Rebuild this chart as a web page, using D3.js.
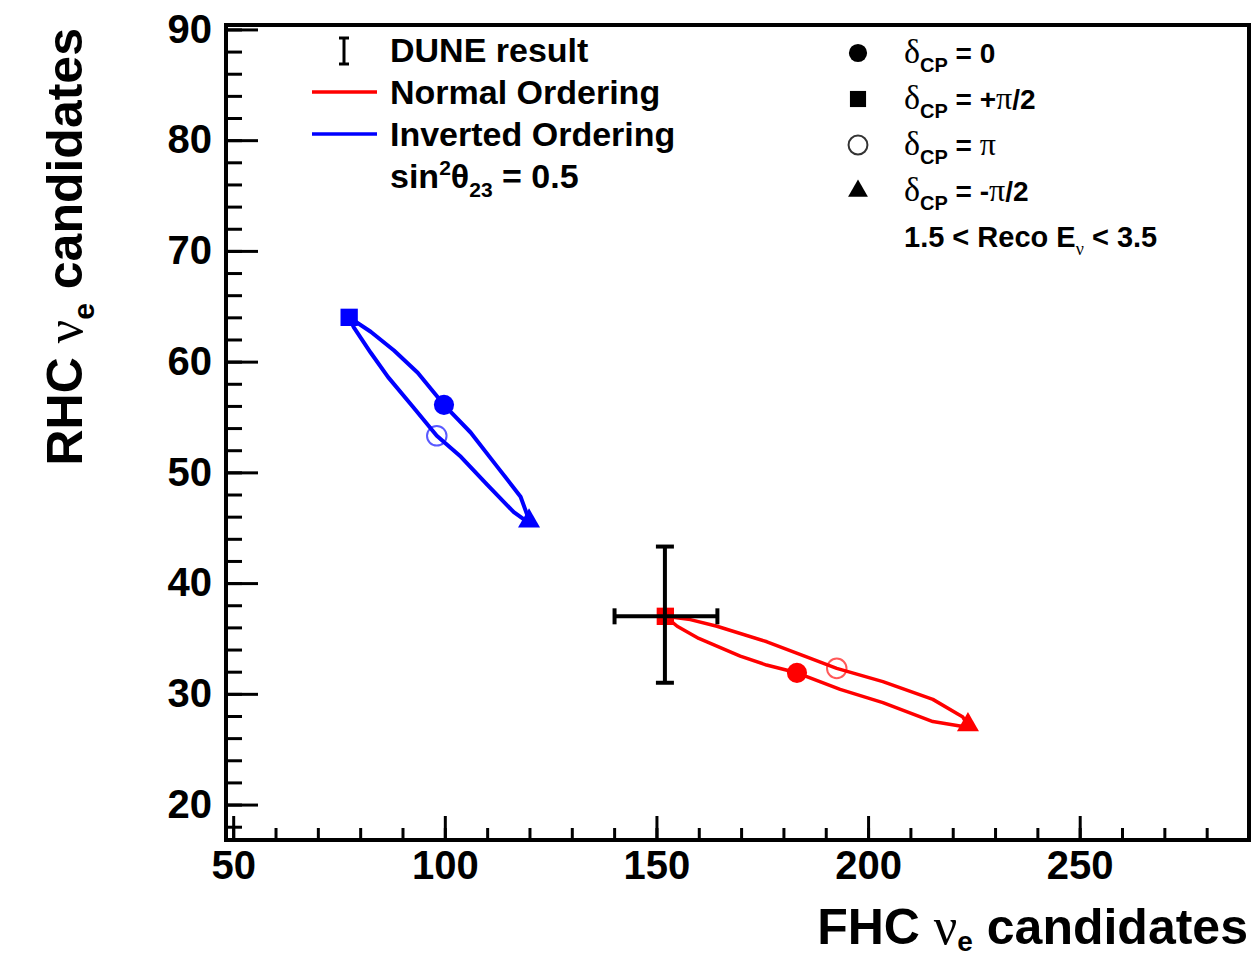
<!DOCTYPE html>
<html>
<head>
<meta charset="utf-8">
<script src="https://cdn.jsdelivr.net/npm/d3@7"></script>
<style>
  body { margin: 0; background: #fff; }
  text { font-family: "Liberation Sans", Arial, sans-serif; font-weight: bold; }
</style>
</head>
<body>
<script>
// values
var xTicks = [50, 100, 150, 200, 250];
var xMinor = d3.range(50, 290, 10);
var yTicks = [20, 30, 40, 50, 60, 70, 80, 90];
var yMinor = d3.range(18, 91, 2);

// loops traced around delta_CP (start at delta=0)
var noLoop = [[183.2,31.9],[176.0,32.6],[169.8,33.4],[160.0,35.0],[154.9,36.1],[152.1,37.0],
  [158.0,36.7],[164.3,36.1],[176.1,34.7],[185.0,33.4],[192.6,32.3],[203.5,31.1],[215.3,29.5],
  [222.4,27.9],[223.6,27.1],[221.7,27.1],[215.3,27.5],[203.5,29.2],[193.4,30.4]];
var ioLoop = [[99.8,56.1],[93.6,59.0],[88.0,61.0],[82.5,62.7],[77.4,64.0],[78.5,63.1],
  [82.5,60.8],[86.6,58.6],[92.5,55.9],[98.1,53.3],[103.8,51.4],[110.0,48.9],[116.3,46.4],
  [119.6,45.5],[119.9,45.7],[117.9,47.8],[112.0,50.7],[106.1,53.6]];

// markers in order delta = 0, +pi/2, pi, -pi/2
var noMarkers = [[183.2,31.9],[152.1,37.0],[192.6,32.3],[223.6,27.2]];
var ioMarkers = [[99.8,56.1],[77.4,64.0],[98.1,53.3],[119.9,45.6]];
var deltaLabels = ['0', '+π/2', 'π', '-π/2'];

var dune = [152.0, 37.0];
var duneX = [140.1, 164.4];
var duneY = [31.0, 43.3];

var W = 1255, H = 960;
var mLeft = 226, mTop = 25, mRight = 1249, mBottom = 840;

var svg = d3.select('body').append('svg')
    .attr('width', W)
    .attr('height', H);

var x = d3.scaleLinear().domain([48.3, 290]).range([mLeft, mRight]);
var y = d3.scaleLinear().domain([16.8, 90.4]).range([mBottom, mTop]);

// x axis: ticks inward
svg.append('g')
    .attr('transform', `translate(0,${mBottom})`)
    .call(d3.axisBottom(x).tickValues(xMinor).tickSize(-12).tickFormat(''))
    .call(g => g.select('.domain').remove())
    .selectAll('line').attr('stroke', '#000').attr('stroke-width', 3);

var xa = svg.append('g')
    .attr('transform', `translate(0,${mBottom})`)
    .call(d3.axisBottom(x).tickValues(xTicks).tickSize(-24).tickPadding(10))
    .call(g => g.select('.domain').remove());
xa.selectAll('line').attr('stroke', '#000').attr('stroke-width', 3);
xa.selectAll('text')
    .attr('font-size', 40)
    .attr('font-family', '"Liberation Sans", Arial, sans-serif')
    .attr('fill', '#000')
    .attr('dy', '0.72em');

svg.append('g')
    .attr('transform', `translate(${mLeft},0)`)
    .call(d3.axisLeft(y).tickValues(yMinor).tickSize(-16).tickFormat(''))
    .call(g => g.select('.domain').remove())
    .selectAll('line').attr('stroke', '#000').attr('stroke-width', 3);

var ya = svg.append('g')
    .attr('transform', `translate(${mLeft},0)`)
    .call(d3.axisLeft(y).tickValues(yTicks).tickSize(-32).tickPadding(14))
    .call(g => g.select('.domain').remove());
ya.selectAll('line').attr('stroke', '#000').attr('stroke-width', 3);
ya.selectAll('text')
    .attr('font-size', 40)
    .attr('font-family', '"Liberation Sans", Arial, sans-serif')
    .attr('fill', '#000');

// frame
svg.append('rect')
    .attr('x', mLeft).attr('y', mTop)
    .attr('width', mRight - mLeft).attr('height', mBottom - mTop)
    .attr('fill', 'none').attr('stroke', '#000').attr('stroke-width', 4);

// loops
var line = d3.line().x(d => x(d[0])).y(d => y(d[1])).curve(d3.curveLinearClosed);

svg.append('path').datum(ioLoop)
    .attr('d', line).attr('fill', 'none').attr('stroke', '#0000ff').attr('stroke-width', 4)
    .attr('stroke-linejoin', 'round');
svg.append('path').datum(noLoop)
    .attr('d', line).attr('fill', 'none').attr('stroke', '#ff0000').attr('stroke-width', 3.5)
    .attr('stroke-linejoin', 'round');

var shapes = [d3.symbolCircle, d3.symbolSquare, d3.symbolCircle, d3.symbolTriangle];
var sizes = [320, 300, 300, 210];

function drawMarkers(pts, colour) {
    svg.append('g').selectAll('path')
        .data(pts)
        .enter()
        .append('path')
        .attr('transform', d => `translate(${x(d[0])},${y(d[1])})`)
        .attr('d', (d, i) => d3.symbol().type(shapes[i]).size(sizes[i])())
        .attr('fill', (d, i) => i == 2 ? 'none' : colour)
        .attr('stroke', colour)
        .attr('stroke-width', (d, i) => i == 2 ? 2 : 0)
        .attr('opacity', (d, i) => i == 2 ? 0.65 : 1);
}
drawMarkers(ioMarkers, '#0000ff');
drawMarkers(noMarkers, '#ff0000');

// DUNE result cross
var eb = svg.append('g').attr('stroke', '#000').attr('stroke-width', 4);
eb.append('line').attr('x1', x(duneX[0])).attr('x2', x(duneX[1])).attr('y1', y(dune[1])).attr('y2', y(dune[1]));
eb.append('line').attr('x1', x(dune[0])).attr('x2', x(dune[0])).attr('y1', y(duneY[0])).attr('y2', y(duneY[1]));
eb.append('line').attr('x1', x(duneX[0])).attr('x2', x(duneX[0])).attr('y1', y(dune[1]) - 8).attr('y2', y(dune[1]) + 8);
eb.append('line').attr('x1', x(duneX[1])).attr('x2', x(duneX[1])).attr('y1', y(dune[1]) - 8).attr('y2', y(dune[1]) + 8);
eb.append('line').attr('x1', x(dune[0]) - 9).attr('x2', x(dune[0]) + 9).attr('y1', y(duneY[0])).attr('y2', y(duneY[0]));
eb.append('line').attr('x1', x(dune[0]) - 9).attr('x2', x(dune[0]) + 9).attr('y1', y(duneY[1])).attr('y2', y(duneY[1]));

// text helper: parts = [text, dy, size, family]
function richText(g, px, py, size, parts, attrs) {
    var t = g.append('text').attr('x', px).attr('y', py).attr('font-size', size).attr('fill', '#000');
    for (var k in (attrs || {})) t.attr(k, attrs[k]);
    parts.forEach(p => {
        var s = t.append('tspan').text(p[0]);
        if (p[1]) s.attr('dy', p[1]);
        if (p[2]) s.attr('font-size', p[2]);
        if (p[3]) s.attr('font-family', p[3]).attr('font-weight', 'normal');
    });
    return t;
}
var serif = '"Liberation Serif", "DejaVu Serif", serif';

// left legend
var lg = svg.append('g');
lg.append('line').attr('x1', 344).attr('x2', 344).attr('y1', 38).attr('y2', 64).attr('stroke', '#000').attr('stroke-width', 3);
lg.append('line').attr('x1', 339).attr('x2', 349).attr('y1', 38).attr('y2', 38).attr('stroke', '#000').attr('stroke-width', 3);
lg.append('line').attr('x1', 339).attr('x2', 349).attr('y1', 64).attr('y2', 64).attr('stroke', '#000').attr('stroke-width', 3);
lg.append('line').attr('x1', 312).attr('x2', 377).attr('y1', 92).attr('y2', 92).attr('stroke', '#ff0000').attr('stroke-width', 3.5);
lg.append('line').attr('x1', 312).attr('x2', 377).attr('y1', 134).attr('y2', 134).attr('stroke', '#0000ff').attr('stroke-width', 3.5);
richText(lg, 390, 62, 34, [['DUNE result']]);
richText(lg, 390, 104, 34, [['Normal Ordering']]);
richText(lg, 390, 146, 34, [['Inverted Ordering']]);
richText(lg, 390, 188, 34, [['sin'], ['2', -13, 21], ['θ', 13, 34], ['23', 9, 21], [' = 0.5', -9, 34]]);

// right legend
var rg = svg.append('g');
var legShapes = [d3.symbolCircle, d3.symbolSquare, d3.symbolCircle, d3.symbolTriangle];
var legY = [53, 99, 145, 191];
rg.selectAll('path')
    .data(deltaLabels)
    .enter()
    .append('path')
    .attr('transform', (d, i) => `translate(858,${legY[i]})`)
    .attr('d', (d, i) => d3.symbol().type(legShapes[i]).size([260, 260, 280, 170][i])())
    .attr('fill', (d, i) => i == 2 ? 'none' : '#000')
    .attr('stroke', '#000')
    .attr('stroke-width', (d, i) => i == 2 ? 2 : 0)
    .attr('opacity', (d, i) => i == 2 ? 0.8 : 1);

deltaLabels.forEach((d, i) => {
    var parts = [['δ', 0, 34, serif], ['CP', 9, 20], [' = ', -9, 28]];
    if (d == '0') parts.push(['0', 0, 28]);
    else if (d == 'π') parts.push(['π', 0, 32, serif]);
    else {
        parts.push([d[0], 0, 28]);
        parts.push(['π', 0, 32, serif]);
        parts.push(['/2', 0, 28]);
    }
    richText(rg, 904, legY[i] + 10, 28, parts);
});
richText(rg, 904, 247, 29, [['1.5 < Reco E'], ['ν', 8, 18, serif], [' < 3.5', -8, 29]]);

// axis titles
richText(svg, 1248, 944, 50, [['FHC  '], ['ν', 0, 52, serif], ['e', 7, 28], [' candidates', -7, 50]], { 'text-anchor': 'end' });
richText(svg, 0, 0, 50, [['RHC  '], ['ν', 0, 52, serif], ['e', 12, 30], [' candidates', -12, 50]],
    { 'text-anchor': 'end', 'transform': 'translate(82,28) rotate(-90)' });
</script>
</body>
</html>
